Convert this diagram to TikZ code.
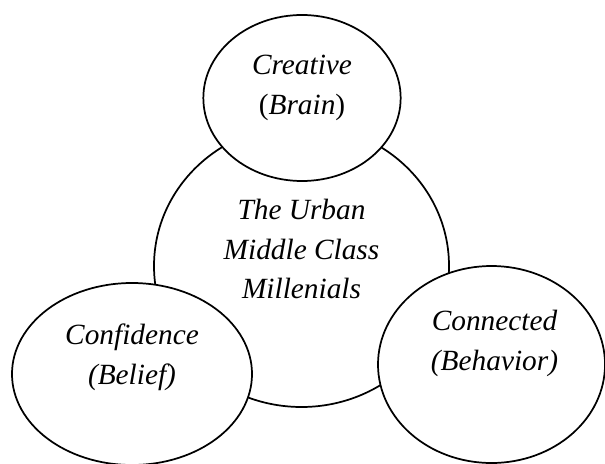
\documentclass[tikz,border=0pt]{standalone}
\usepackage{fontspec}
\setmainfont{Liberation Serif}
\usetikzlibrary{shapes.geometric,calc}

\begin{document}
\begin{tikzpicture}[
    x=0.75pt, y=-0.75pt,
    ring/.style={draw, ellipse, line width=1.3pt, fill=white, inner sep=0pt},
    caption/.style={align=center, font=\fontsize{22}{29.8}\selectfont\itshape},
]
\useasboundingbox (0,0) rectangle (605,463);

% core group first, the three traits overlap it
\node[ring, minimum width=221.25pt, minimum height=211.5pt] (core) at (301.5,266) {};
\node[ring, minimum width=148pt, minimum height=124.5pt] (brain) at (302,98) {};
\node[ring, minimum width=180pt, minimum height=136.5pt] (belief) at (132,374) {};
\node[ring, minimum width=170.25pt, minimum height=147.75pt] (behavior) at (491.5,364.5) {};

\node[caption] (core-text) at ($(core)+(0,-17)$) {The Urban\\Middle Class\\Millenials};
\node[caption] (brain-text) at ($(brain)+(0,-10)$) {Creative\\{\upshape(}Brain{\upshape)}};
\node[caption] (belief-text) at ($(belief)+(0,-17)$) {Confidence\\(Belief)};
\node[caption] (behavior-text) at ($(behavior)+(3,-21)$) {Connected\\(Behavior)};
\end{tikzpicture}
\end{document}
